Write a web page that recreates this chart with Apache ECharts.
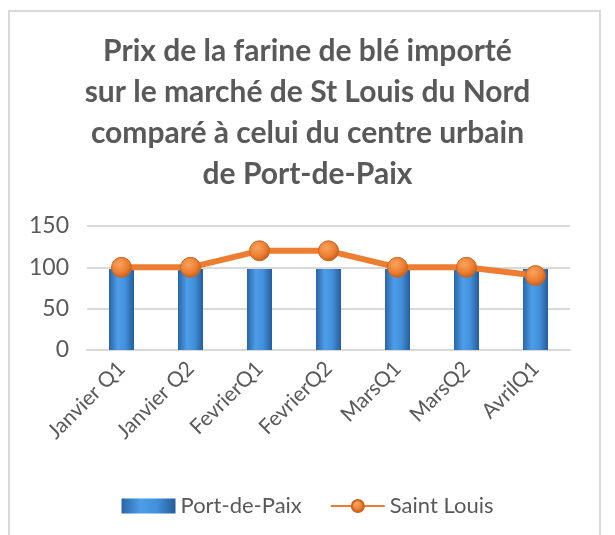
<!DOCTYPE html>
<html>
<head>
<meta charset="utf-8">
<script src="https://cdn.jsdelivr.net/npm/echarts@6/dist/echarts.min.js"></script>
<style>
  html, body { margin: 0; padding: 0; background: #fff; }
  #main { width: 615px; height: 535px; }
</style>
</head>
<body>
<div id="main"></div>
<script>
var categories = ['Janvier Q1', 'Janvier Q2', 'FevrierQ1', 'FevrierQ2', 'MarsQ1', 'MarsQ2', 'AvrilQ1'];
var portDePaix = [98, 98, 98, 98, 98, 98, 98];
var saintLouis = [100, 100, 120, 120, 100, 100, 90];
var yTicks = [0, 50, 100, 150];

var font = 'Lato, "Open Sans", sans-serif';
var textColor = '#595959';

var chartDom = document.getElementById('main');
var myChart = echarts.init(chartDom);

// bar fill: darker edges, lighter middle, like the rounded excel bars
var barFill = new echarts.graphic.LinearGradient(0, 0, 1, 0, [
    { offset: 0, color: '#2a64a6' },
    { offset: 0.35, color: '#4d9de8' },
    { offset: 0.65, color: '#4290da' },
    { offset: 1, color: '#255d9c' }
]);
var markerFill = new echarts.graphic.RadialGradient(0.4, 0.35, 0.7, [
    { offset: 0, color: '#f8a55e' },
    { offset: 0.6, color: '#ed7d31' },
    { offset: 1, color: '#b85a1c' }
]);

var option = {
    backgroundColor: '#fff',
    textStyle: { fontFamily: font },
    graphic: [{
        type: 'rect',
        silent: true,
        shape: { x: 9, y: 11, width: 591, height: 600 },
        style: { fill: 'none', stroke: '#d9d9d9', lineWidth: 2 }
    }],
    title: {
        text: 'Prix de la farine de blé importé\nsur le marché de St Louis du Nord\ncomparé à celui du centre urbain\nde Port-de-Paix',
        left: 'center',
        top: 26,
        textStyle: {
            fontFamily: font,
            fontSize: 30,
            fontWeight: 'bold',
            color: textColor,
            lineHeight: 41
        }
    },
    legend: {
        bottom: 13,
        left: 'center',
        itemGap: 28,
        itemWidth: 54,
        itemHeight: 15,
        textStyle: { fontFamily: font, fontSize: 22, color: textColor },
        data: [
            { name: 'Port-de-Paix', icon: 'rect' },
            { name: 'Saint Louis' }
        ]
    },
    grid: {
        left: 87,
        right: 45,
        top: 226,
        bottom: 185,
        containLabel: false
    },
    xAxis: {
        type: 'category',
        data: categories,
        axisLine: { show: true, lineStyle: { color: '#d9d9d9', width: 2 } },
        axisTick: { show: false },
        axisLabel: {
            rotate: 45,
            interval: 0,
            margin: 15,
            fontFamily: font,
            fontSize: 21,
            color: textColor
        }
    },
    yAxis: {
        type: 'value',
        min: yTicks[0],
        max: yTicks[yTicks.length - 1],
        interval: 50,
        axisLine: { show: false },
        axisTick: { show: false },
        splitLine: { lineStyle: { color: '#d9d9d9', width: 2 } },
        axisLabel: {
            margin: 18,
            fontFamily: font,
            fontSize: 23,
            color: textColor
        }
    },
    series: [{
        name: 'Port-de-Paix',
        type: 'bar',
        data: portDePaix,
        barWidth: 25,
        itemStyle: { color: barFill },
        z: 2
    }, {
        name: 'Saint Louis',
        type: 'line',
        data: saintLouis,
        symbol: 'circle',
        symbolSize: 20,
        lineStyle: { color: '#ed7d31', width: 6 },
        itemStyle: { color: markerFill, borderColor: '#c8651f', borderWidth: 1 },
        z: 3
    }]
};

option && myChart.setOption(option);
</script>
</body>
</html>
